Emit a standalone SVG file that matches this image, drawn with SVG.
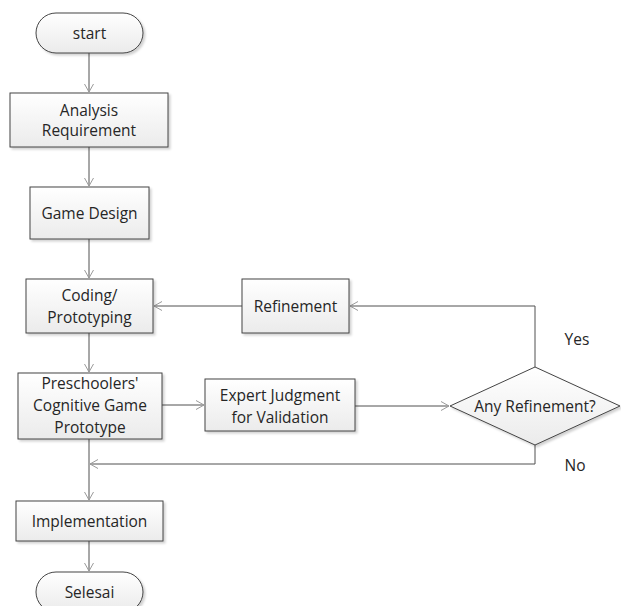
<svg xmlns="http://www.w3.org/2000/svg" width="621" height="606" viewBox="0 0 621 606">
<defs>
<linearGradient id="g" x1="0" y1="0" x2="0" y2="1">
<stop offset="0" stop-color="#ffffff"/>
<stop offset="1" stop-color="#ebebeb"/>
</linearGradient>
<filter id="sh" x="-10%" y="-10%" width="130%" height="130%">
<feDropShadow dx="2" dy="2" stdDeviation="1.2" flood-color="#000" flood-opacity="0.18"/>
</filter>
<marker id="arr" markerWidth="12" markerHeight="12" refX="9" refY="5" orient="auto" markerUnits="userSpaceOnUse">
<path d="M1,0.5 L9,5 L1,9.5" fill="none" stroke="#9a9a9a" stroke-width="1"/>
</marker>
</defs>
<style>
.n{fill:url(#g);stroke:#444444;stroke-width:1;filter:url(#sh)}
.t{font-family:"Open Sans","Liberation Sans",sans-serif;font-size:15.5px;fill:#262626;text-anchor:middle;dominant-baseline:central}
.c{fill:none;stroke:#505050;stroke-width:1}
</style>
<rect width="621" height="606" fill="#ffffff"/>
<g id="connectors">
<path class="c" d="M89,53 V92" marker-end="url(#arr)"/>
<path class="c" d="M89,147 V186" marker-end="url(#arr)"/>
<path class="c" d="M89,239 V278" marker-end="url(#arr)"/>
<path class="c" d="M89,333 V372" marker-end="url(#arr)"/>
<path class="c" d="M162,405 H204" marker-end="url(#arr)"/>
<path class="c" d="M355,406 H449" marker-end="url(#arr)"/>
<path class="c" d="M535,367 V306 H350" marker-end="url(#arr)"/>
<path class="c" d="M242,306 H154" marker-end="url(#arr)"/>
<path class="c" d="M535,445 V464 H90" marker-end="url(#arr)"/>
<path class="c" d="M89,439 V500" marker-end="url(#arr)"/>
<path class="c" d="M89,541 V571" marker-end="url(#arr)"/>
<text class="t" x="577" y="339">Yes</text>
<text class="t" x="575" y="465">No</text>
</g>
<g id="start">
<rect class="n" x="36" y="13" width="107" height="40" rx="20" ry="20"/>
<text class="t" x="89.5" y="33">start</text>
</g>
<g id="analysis">
<rect class="n" x="10" y="93" width="158" height="54"/>
<text class="t" x="89" y="110">Analysis</text>
<text class="t" x="89" y="130">Requirement</text>
</g>
<g id="gamedesign">
<rect class="n" x="30" y="187" width="119" height="52"/>
<text class="t" x="89.5" y="213">Game Design</text>
</g>
<g id="coding">
<rect class="n" x="26" y="279" width="127" height="54"/>
<text class="t" x="89.5" y="295">Coding/</text>
<text class="t" x="89.5" y="317">Prototyping</text>
</g>
<g id="refinement">
<rect class="n" x="242" y="279" width="107" height="54"/>
<text class="t" x="295.5" y="306">Refinement</text>
</g>
<g id="prototype">
<rect class="n" x="18" y="373" width="144" height="66"/>
<text class="t" x="90" y="383">Preschoolers'</text>
<text class="t" x="90" y="405">Cognitive Game</text>
<text class="t" x="90" y="427">Prototype</text>
</g>
<g id="expert">
<rect class="n" x="205" y="379" width="150" height="52"/>
<text class="t" x="280" y="395">Expert Judgment</text>
<text class="t" x="280" y="417">for Validation</text>
</g>
<g id="decision">
<polygon class="n" points="535,367 620,406 535,445 450,406"/>
<text class="t" x="535" y="406">Any Refinement?</text>
</g>
<g id="implementation">
<rect class="n" x="16" y="501" width="147" height="40"/>
<text class="t" x="89.5" y="521">Implementation</text>
</g>
<g id="selesai">
<rect class="n" x="36" y="572" width="107" height="40" rx="20" ry="20"/>
<text class="t" x="89.5" y="592">Selesai</text>
</g>
</svg>
